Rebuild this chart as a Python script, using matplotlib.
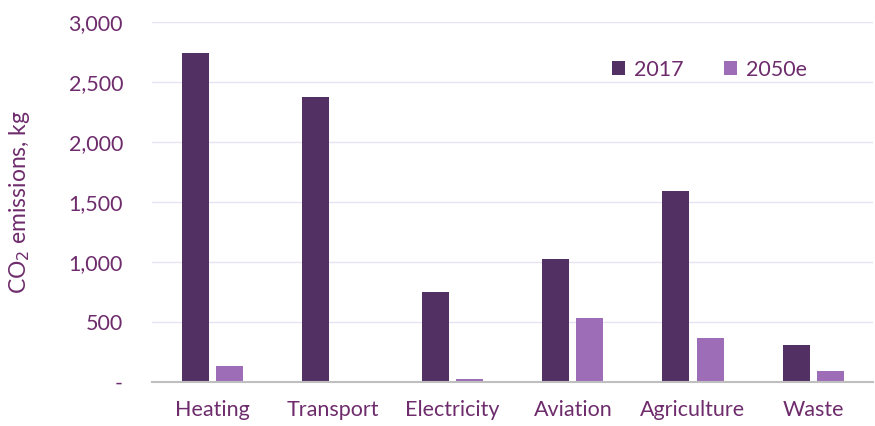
import numpy as np
from matplotlib import pyplot as plt
from matplotlib.ticker import FuncFormatter

plt.rcParams["font.family"] = ["Lato", "DejaVu Sans"]

categories = ["Heating", "Transport", "Electricity", "Aviation", "Agriculture", "Waste"]
co2_2017 = [2740, 2375, 750, 1025, 1590, 308]
co2_2050e = [135, 0, 25, 533, 367, 92]
series_names = ["2017", "2050e"]

text_col = "#6E2C6C"
dark = "#523063"
light = "#9E6DB8"

fig = plt.figure(figsize=(8.75, 4.26), dpi=100)
ax = fig.add_axes([0.174, 0.103, 0.824, 0.845])

x = np.arange(len(categories))
w = 0.225
gap = 0.06
ax.bar(x - (w + gap) / 2, co2_2017, w, color=dark, label=series_names[0], zorder=3)
ax.bar(x + (w + gap) / 2, co2_2050e, w, color=light, label=series_names[1], zorder=3)

ax.set_xlim(-0.5, len(categories) - 0.5)
ax.set_ylim(0, 3000)
ax.set_yticks(np.arange(0, 3001, 500))
ax.yaxis.set_major_formatter(FuncFormatter(lambda v, p: "-" if v == 0 else f"{int(v):,}"))
ax.set_xticks(x)
ax.set_xticklabels(categories)

ax.grid(axis="y", color="#E8E2F2", linewidth=1, zorder=0)
for s in ["top", "right", "left"]:
    ax.spines[s].set_visible(False)
ax.spines["bottom"].set_color("#BFBFBF")
ax.spines["bottom"].set_linewidth(1.5)
ax.spines["bottom"].set_zorder(4)

ax.tick_params(axis="both", length=0, labelsize=15.5, colors=text_col)
ax.tick_params(axis="y", pad=21)
ax.tick_params(axis="x", pad=13)

ax.set_ylabel("CO$_2$ emissions, kg", fontsize=16.5, color=text_col, labelpad=26)

leg = ax.legend(loc="upper right", bbox_to_anchor=(0.935, 0.95), ncol=2, frameon=False,
                fontsize=15.5, handlelength=0.6, handleheight=0.6, columnspacing=1.9,
                handletextpad=0.4)
for t in leg.get_texts():
    t.set_color(text_col)

plt.savefig("out.png", dpi=100)
